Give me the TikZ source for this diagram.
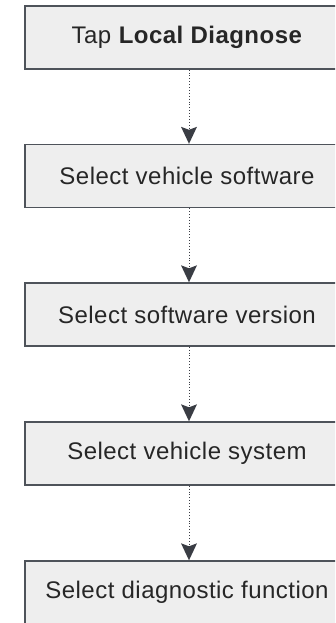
\documentclass[tikz,border=0pt]{standalone}
\usepackage{fontspec}
\setmainfont{Liberation Sans}
\usetikzlibrary{arrows.meta}

\definecolor{boxfill}{HTML}{EEEEEE}
\definecolor{boxline}{HTML}{4E535A}
\definecolor{tipcol}{HTML}{3A3D44}

\begin{document}
\begin{tikzpicture}[x=1pt,y=-1pt,
    stepbox/.style={draw=boxline, line width=1.4pt, fill=boxfill, minimum width=324pt,
      minimum height=63pt, inner sep=0pt,
      font=\fontsize{24}{27}\selectfont\addfontfeature{LetterSpace=2}, text=black!85},
    flowarrow/.style={draw=tipcol, line width=0.9pt, dotted,
      -{Stealth[length=17pt, width=16pt, inset=3pt, fill=tipcol, line width=0pt, sharp]}}]
        \useasboundingbox (0,0) rectangle (335,623);
        \clip (0,0) rectangle (335,623);

\node[stepbox] (tap) at (187,37.5) {Tap \textbf{Local Diagnose}};
\node[stepbox] (soft) at (187,176) {Select vehicle software};
\node[stepbox] (vers) at (187,314.5) {Select software version};
\node[stepbox] (sys) at (187,453.5) {Select vehicle system};
\node[stepbox] (func) at (187,592.5) {Select diagnostic function};

\draw[flowarrow] ([xshift=2pt]tap.south) -- ([xshift=2pt]soft.north);
\draw[flowarrow] ([xshift=2pt]soft.south) -- ([xshift=2pt]vers.north);
\draw[flowarrow] ([xshift=2pt]vers.south) -- ([xshift=2pt]sys.north);
\draw[flowarrow] ([xshift=2pt]sys.south) -- ([xshift=2pt]func.north);

\end{tikzpicture}
\end{document}
